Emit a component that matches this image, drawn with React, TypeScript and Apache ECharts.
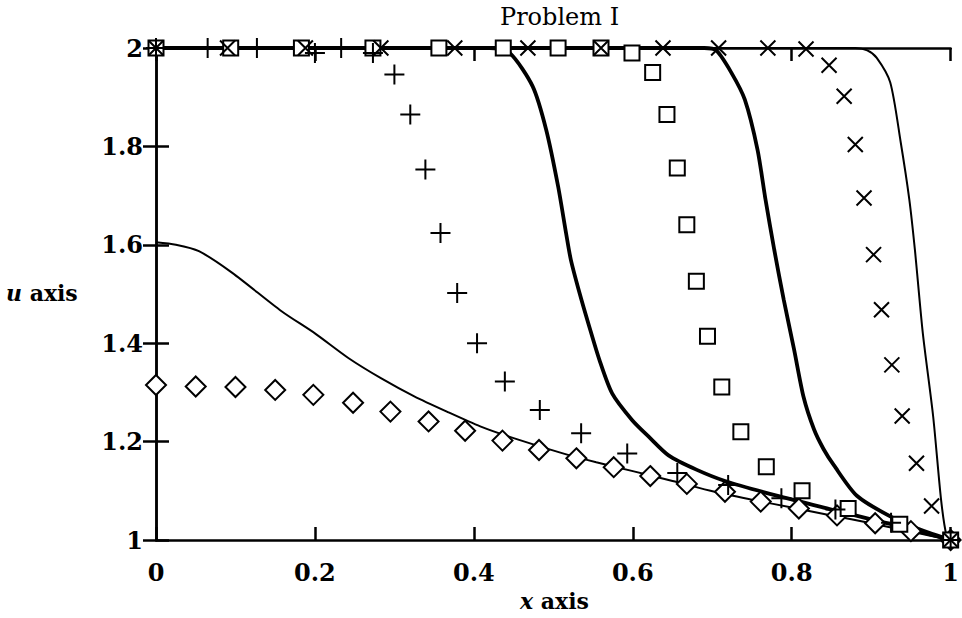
import React, { useEffect, useRef } from "react";
import * as echarts from "echarts";

// Tick values
const xTicks = [0, 0.2, 0.4, 0.6, 0.8, 1];
const yTicks = [1, 1.2, 1.4, 1.6, 1.8, 2];

// Solid curves [x, u]
const thinCurveA: number[][] = [
  [0, 1.605], [0.025, 1.6], [0.054, 1.587], [0.096, 1.543], [0.158, 1.465], [0.2, 1.42],
  [0.242, 1.37], [0.283, 1.329], [0.325, 1.292], [0.366, 1.261], [0.408, 1.231], [0.45, 1.207],
  [0.512, 1.176], [0.554, 1.158], [0.6, 1.14], [0.65, 1.12], [0.703, 1.098], [0.75, 1.082],
  [0.8, 1.066], [0.85, 1.05], [0.9, 1.034], [0.95, 1.017], [1, 1.0],
];
const thickCurveB: number[][] = [
  [0, 2], [0.42, 2], [0.445, 1.99], [0.474, 1.922], [0.491, 1.834], [0.506, 1.719],
  [0.516, 1.624], [0.522, 1.57], [0.533, 1.502], [0.545, 1.435], [0.558, 1.366], [0.574, 1.298],
  [0.599, 1.244], [0.62, 1.21], [0.645, 1.172], [0.68, 1.143], [0.716, 1.12], [0.786, 1.088],
  [0.85, 1.062], [0.9, 1.042], [0.95, 1.022], [1, 1.0],
];
const thickCurveC: number[][] = [
  [0, 2], [0.69, 2], [0.705, 1.995], [0.724, 1.95], [0.741, 1.895], [0.757, 1.793],
  [0.767, 1.692], [0.778, 1.59], [0.79, 1.488], [0.803, 1.387], [0.815, 1.29], [0.828, 1.225],
  [0.84, 1.185], [0.853, 1.152], [0.882, 1.09], [0.93, 1.043], [0.972, 1.015], [1, 1.0],
];
const thinCurveD: number[][] = [
  [0, 2], [0.88, 2], [0.895, 1.995], [0.907, 1.98], [0.924, 1.93], [0.937, 1.81],
  [0.948, 1.692], [0.955, 1.59], [0.965, 1.42], [0.978, 1.251], [0.988, 1.081], [0.995, 1.007],
  [1, 1.0],
];

// Marker series [x, u]
const diamondPts: number[][] = [
  [0, 1.315], [0.05, 1.312], [0.1, 1.311], [0.15, 1.305], [0.198, 1.295], [0.248, 1.279],
  [0.295, 1.261], [0.343, 1.241], [0.389, 1.222], [0.436, 1.202], [0.482, 1.183], [0.529, 1.166],
  [0.576, 1.148], [0.622, 1.13], [0.668, 1.114], [0.716, 1.098], [0.761, 1.078], [0.809, 1.064],
  [0.857, 1.05], [0.905, 1.034], [0.95, 1.018], [1, 1.0],
];
const plusPts: number[][] = [
  [0, 2], [0.065, 2], [0.127, 2], [0.2, 1.99], [0.233, 2], [0.273, 1.99], [0.3, 1.946],
  [0.32, 1.865], [0.339, 1.753], [0.358, 1.624], [0.379, 1.502], [0.404, 1.4], [0.439, 1.322],
  [0.483, 1.264], [0.535, 1.217], [0.593, 1.176], [0.656, 1.136], [0.72, 1.112], [0.787, 1.085],
  [0.855, 1.062], [0.925, 1.035], [1, 1.0],
];
const squarePts: number[][] = [
  [0, 2], [0.094, 2], [0.183, 2], [0.273, 2], [0.356, 2], [0.437, 2], [0.506, 2], [0.56, 2],
  [0.599, 1.99], [0.625, 1.95], [0.643, 1.865], [0.656, 1.756], [0.668, 1.641], [0.68, 1.526],
  [0.694, 1.414], [0.712, 1.311], [0.736, 1.22], [0.768, 1.149], [0.813, 1.1], [0.871, 1.064],
  [0.936, 1.032], [1, 1.0],
];
const crossPts: number[][] = [
  [0, 2], [0.09, 2], [0.188, 2], [0.283, 2], [0.376, 2], [0.468, 2], [0.56, 2], [0.638, 2],
  [0.708, 2], [0.77, 2], [0.818, 1.998], [0.847, 1.965], [0.866, 1.902], [0.88, 1.804],
  [0.891, 1.695], [0.903, 1.58], [0.913, 1.468], [0.926, 1.356], [0.939, 1.252], [0.957, 1.156],
  [0.976, 1.069], [1, 1.0],
];

const FONT = "DejaVu Serif";

export default function App() {
  const ref = useRef<HTMLDivElement>(null);
  useEffect(() => {
    if (!ref.current) return;
    const chart = echarts.init(ref.current, null, { renderer: "svg" });
    const axisLine = { show: true, lineStyle: { color: "#000", width: 2.5 } };
    const axisTick = { show: true, inside: true, length: 13, lineStyle: { color: "#000", width: 2.5 } };
    const labelStyle = { color: "#000", fontFamily: FONT, fontWeight: "bold" as const, fontSize: 24 };
    const lineSeries = (data: number[][], width: number) => ({
      type: "line",
      data,
      showSymbol: false,
      symbol: "none",
      smooth: 0.25,
      clip: false,
      lineStyle: { color: "#000", width },
      z: 3,
    });
    const markerSeries = (data: number[][], symbol: string, size: number, fill: string) => ({
      type: "scatter",
      data,
      symbol,
      symbolSize: size,
      clip: false,
      itemStyle: { color: fill, borderColor: "#000", borderWidth: 2, opacity: 1 },
      z: 4,
    });
    const rich = {
      i: { fontFamily: FONT, fontStyle: "italic", fontWeight: "bold", fontSize: 22, fill: "#000" },
      b: { fontFamily: FONT, fontWeight: "bold", fontSize: 22, fill: "#000" },
    };
    chart.setOption({
      animation: false,
      backgroundColor: "#fff",
      grid: { left: 156, right: 5, top: 48, bottom: 78, containLabel: false },
      xAxis: [
        {
          type: "value", min: xTicks[0], max: xTicks[xTicks.length - 1], interval: 0.2, position: "bottom",
          axisLine, axisTick, splitLine: { show: false },
          axisLabel: { ...labelStyle, margin: 20 },
        },
        {
          type: "value", min: 0, max: 1, interval: 0.2, position: "top",
          axisLine, axisTick, splitLine: { show: false }, axisLabel: { show: false },
        },
      ],
      yAxis: [
        {
          type: "value", min: yTicks[0], max: yTicks[yTicks.length - 1], interval: 0.2, position: "left",
          axisLine, axisTick, splitLine: { show: false },
          axisLabel: { ...labelStyle, margin: 13 },
        },
        {
          type: "value", min: 1, max: 2, interval: 0.2, position: "right",
          axisLine, axisTick, splitLine: { show: false }, axisLabel: { show: false },
        },
      ],
      graphic: [
        {
          type: "text", left: 500, top: 5,
          style: { text: "Problem I", fill: "#000", font: `24px "${FONT}"` },
        },
        {
          type: "text", left: 520, top: 590,
          style: { text: "{i|x}{b| axis}", fill: "#000", rich },
        },
        {
          type: "text", left: 6, top: 282,
          style: { text: "{i|u}{b| axis}", fill: "#000", rich },
        },
      ],
      series: [
        lineSeries(thinCurveA, 2),
        lineSeries(thickCurveB, 3.8),
        lineSeries(thickCurveC, 3.8),
        lineSeries(thinCurveD, 2),
        markerSeries(diamondPts, "diamond", 20, "#fff"),
        markerSeries(squarePts, "rect", 15, "#fff"),
        markerSeries(plusPts, "path://M0,5 L10,5 M5,0 L5,10", 20, "none"),
        markerSeries(crossPts, "path://M0,0 L10,10 M10,0 L0,10", 15, "none"),
      ],
    });
    return () => chart.dispose();
  }, []);
  return (
    <div
      ref={ref}
      style={{ position: "fixed", left: 0, top: 0, width: 962, height: 618, background: "#fff" }}
    />
  );
}
